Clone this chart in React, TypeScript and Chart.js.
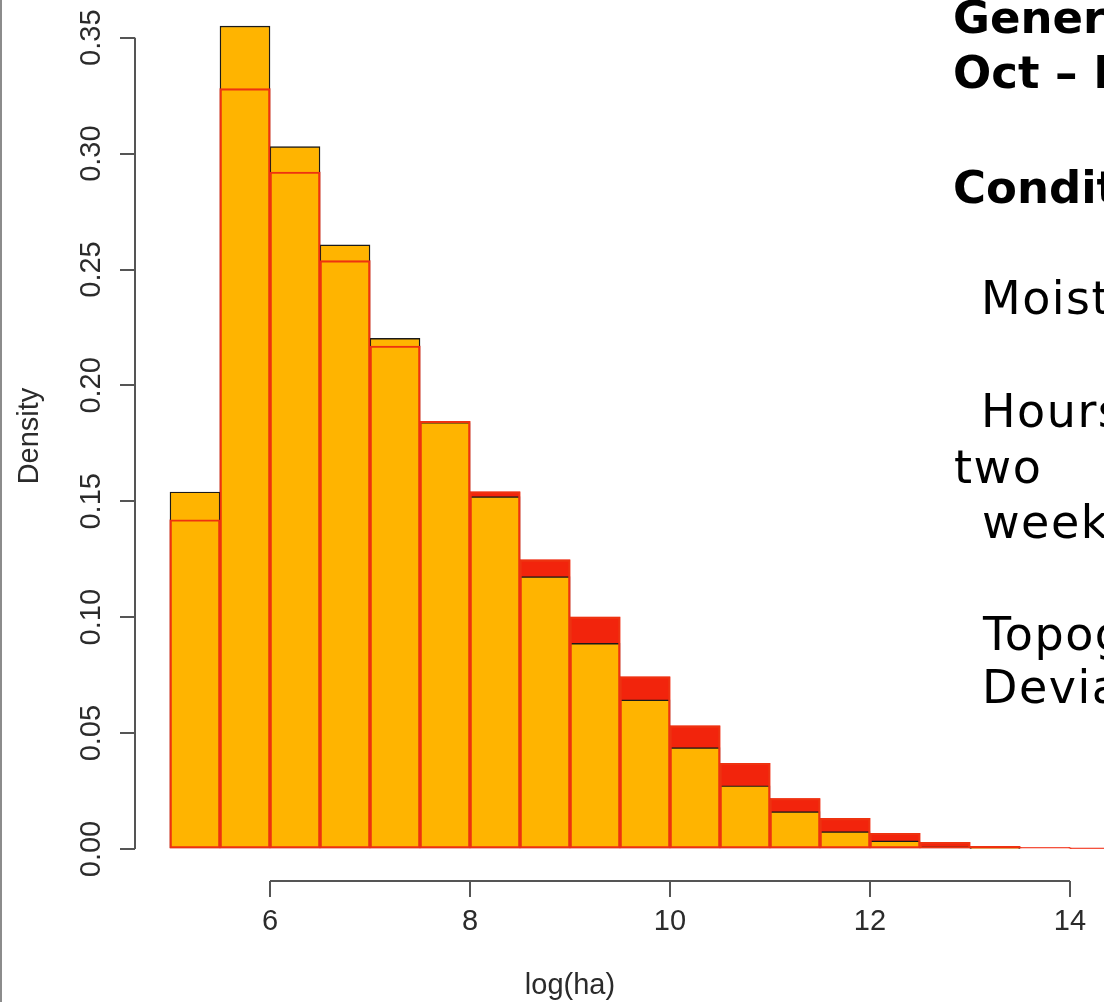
import { useEffect, useRef } from 'react';
import { Chart, registerables } from 'chart.js';

Chart.register(...registerables);

// Histogram bins of log(ha), 0.5 wide, starting at 5
const binStarts = [5, 5.5, 6, 6.5, 7, 7.5, 8, 8.5, 9, 9.5, 10, 10.5, 11, 11.5, 12, 12.5, 13, 13.5, 14, 14.5];
const binWidth = 0.5;

// Density of all fires (red histogram)
const densityAll = [0.142, 0.328, 0.292, 0.2538, 0.217, 0.1845, 0.1541, 0.1247, 0.1, 0.0743, 0.0531, 0.037, 0.0218, 0.0132, 0.0068, 0.0029, 0.0011, 0.0006, 0.0003, 0.0002];
// Density under the general model (orange histogram)
const densityModel = [0.154, 0.355, 0.303, 0.2606, 0.2203, 0.184, 0.152, 0.1175, 0.0887, 0.0643, 0.0437, 0.0273, 0.0161, 0.0075, 0.0035, 0.0011, 0.0003, 0, 0, 0];

const xTicks = [6, 8, 10, 12, 14];
const yTicks = [0, 0.05, 0.1, 0.15, 0.2, 0.25, 0.3, 0.35];
const yTickLabels = ['0.00', '0.05', '0.10', '0.15', '0.20', '0.25', '0.30', '0.35'];
const xTitle = 'log(ha)';
const yTitle = 'Density';

// Side notes
const headerLines = ['General Model', 'Oct – Dec', 'Conditioned on:'];
const conditionLines = ['Moisture', 'Hours', 'two', 'weeks', 'Topographic', 'Deviation'];

const AXIS_FONT = '"Liberation Sans", Arial, sans-serif';
const NOTE_FONT = '"DejaVu Sans", sans-serif';
const INK = '#2b2b2b';
const AXIS_LINE = '#555555';
const RED_FILL = '#f2240c';
const RED_EDGE = '#ee3210';
const ORANGE_FILL = '#ffb400';

const toPoints = (vals: number[]) => binStarts.map((s, i) => ({ x: s + binWidth / 2, y: vals[i] }));

const decorations = {
  id: 'decorations',
  afterDraw(chart: any) {
    const { ctx } = chart;
    const xs = chart.scales.x;
    const ys = chart.scales.y;
    ctx.save();

    // frame line at the very left
    ctx.strokeStyle = '#8c8c8c';
    ctx.lineWidth = 2;
    ctx.beginPath();
    ctx.moveTo(1, 0);
    ctx.lineTo(1, chart.height);
    ctx.stroke();

    // R-style axis lines spanning first to last tick
    ctx.strokeStyle = AXIS_LINE;
    ctx.lineWidth = 2;
    const axisX = chart.chartArea.left;
    ctx.beginPath();
    ctx.moveTo(axisX, ys.getPixelForValue(yTicks[0]));
    ctx.lineTo(axisX, ys.getPixelForValue(yTicks[yTicks.length - 1]));
    ctx.stroke();
    const axisY = chart.chartArea.bottom;
    ctx.beginPath();
    ctx.moveTo(xs.getPixelForValue(xTicks[0]), axisY);
    ctx.lineTo(xs.getPixelForValue(xTicks[xTicks.length - 1]), axisY);
    ctx.stroke();

    // rotated y tick labels
    ctx.fillStyle = INK;
    ctx.font = `29px ${AXIS_FONT}`;
    ctx.textAlign = 'center';
    ctx.textBaseline = 'alphabetic';
    yTicks.forEach((v, i) => {
      ctx.save();
      ctx.translate(100, ys.getPixelForValue(v));
      ctx.rotate(-Math.PI / 2);
      ctx.fillText(yTickLabels[i], 0, 0);
      ctx.restore();
    });

    // axis titles
    ctx.save();
    ctx.translate(38, 436);
    ctx.rotate(-Math.PI / 2);
    ctx.fillText(yTitle, 0, 0);
    ctx.restore();
    ctx.fillText(xTitle, 570, 994);

    // side notes
    ctx.fillStyle = '#000';
    ctx.textAlign = 'left';
    ctx.font = `bold 45px ${NOTE_FONT}`;
    ctx.fillText(headerLines[0], 953, 33);
    ctx.fillText(headerLines[1], 953, 88);
    ctx.fillText(headerLines[2], 953, 203);
    ctx.font = `46px ${NOTE_FONT}`;
    ctx.letterSpacing = '1.5px';
    ctx.fillText(conditionLines[0], 981, 314);
    ctx.fillText(conditionLines[1], 981, 427);
    ctx.fillText(conditionLines[2], 954, 483);
    ctx.fillText(conditionLines[3], 982, 538);
    ctx.fillText(conditionLines[4], 983, 650);
    ctx.fillText(conditionLines[5], 982, 703);
    ctx.letterSpacing = '0px';

    ctx.restore();
  },
};

export default function App() {
  const canvasRef = useRef<HTMLCanvasElement | null>(null);

  useEffect(() => {
    const canvas = canvasRef.current;
    if (!canvas) return;

    const pxPerUnit = (849 - 37.7) / 0.35;
    const yMax = 849 / pxPerUnit;
    const yMin = -(881 - 849) / pxPerUnit;

    const chart = new Chart(canvas, {
      type: 'bar',
      data: {
        datasets: [
          {
            label: 'all fill',
            data: toPoints(densityAll),
            backgroundColor: RED_FILL,
            borderWidth: 0,
            grouped: false,
            barPercentage: 1,
            categoryPercentage: 1,
            order: 3,
          } as any,
          {
            label: 'model',
            data: toPoints(densityModel),
            backgroundColor: ORANGE_FILL,
            borderColor: '#1a1a1a',
            borderWidth: 1.4,
            borderSkipped: false,
            grouped: false,
            barPercentage: 1,
            categoryPercentage: 1,
            order: 2,
          } as any,
          {
            label: 'all outline',
            data: toPoints(densityAll),
            backgroundColor: 'rgba(0,0,0,0)',
            borderColor: RED_EDGE,
            borderWidth: 1.4,
            borderSkipped: false,
            grouped: false,
            barPercentage: 1,
            categoryPercentage: 1,
            order: 1,
          } as any,
        ],
      },
      options: {
        animation: false,
        responsive: false,
        maintainAspectRatio: false,
        layout: { padding: 0 },
        plugins: {
          legend: { display: false },
          tooltip: { enabled: false },
          title: { display: false },
        },
        scales: {
          x: {
            type: 'linear',
            min: 4.65,
            max: 14.34,
            offset: false,
            grid: {
              display: true,
              offset: false,
              drawOnChartArea: false,
              drawTicks: true,
              tickLength: 16,
              color: AXIS_LINE,
              lineWidth: 2,
            },
            border: { display: false },
            ticks: {
              autoSkip: false,
              maxRotation: 0,
              padding: 8,
              color: INK,
              font: { family: AXIS_FONT, size: 29 },
              callback: (v: any) => String(v),
            },
            afterBuildTicks: (s: any) => {
              s.ticks = xTicks.map((v) => ({ value: v }));
            },
            afterFit: (s: any) => {
              s.height = 121;
              s.paddingLeft = 0;
              s.paddingRight = 0;
            },
          },
          y: {
            type: 'linear',
            min: yMin,
            max: yMax,
            grid: {
              display: true,
              drawOnChartArea: false,
              drawTicks: true,
              tickLength: 15,
              color: AXIS_LINE,
              lineWidth: 2,
            },
            border: { display: false },
            ticks: { display: false },
            afterBuildTicks: (s: any) => {
              s.ticks = yTicks.map((v) => ({ value: v }));
            },
            afterFit: (s: any) => {
              s.width = 135;
              s.paddingTop = 0;
              s.paddingBottom = 0;
            },
          },
        },
      } as any,
      plugins: [decorations],
    });

    return () => chart.destroy();
  }, []);

  return (
    <div
      style={{
        position: 'fixed',
        left: 0,
        top: 0,
        width: 1104,
        height: 1002,
        overflow: 'hidden',
        background: '#ffffff',
      }}
    >
      <canvas ref={canvasRef} width={1104} height={1002} style={{ display: 'block' }} />
    </div>
  );
}
